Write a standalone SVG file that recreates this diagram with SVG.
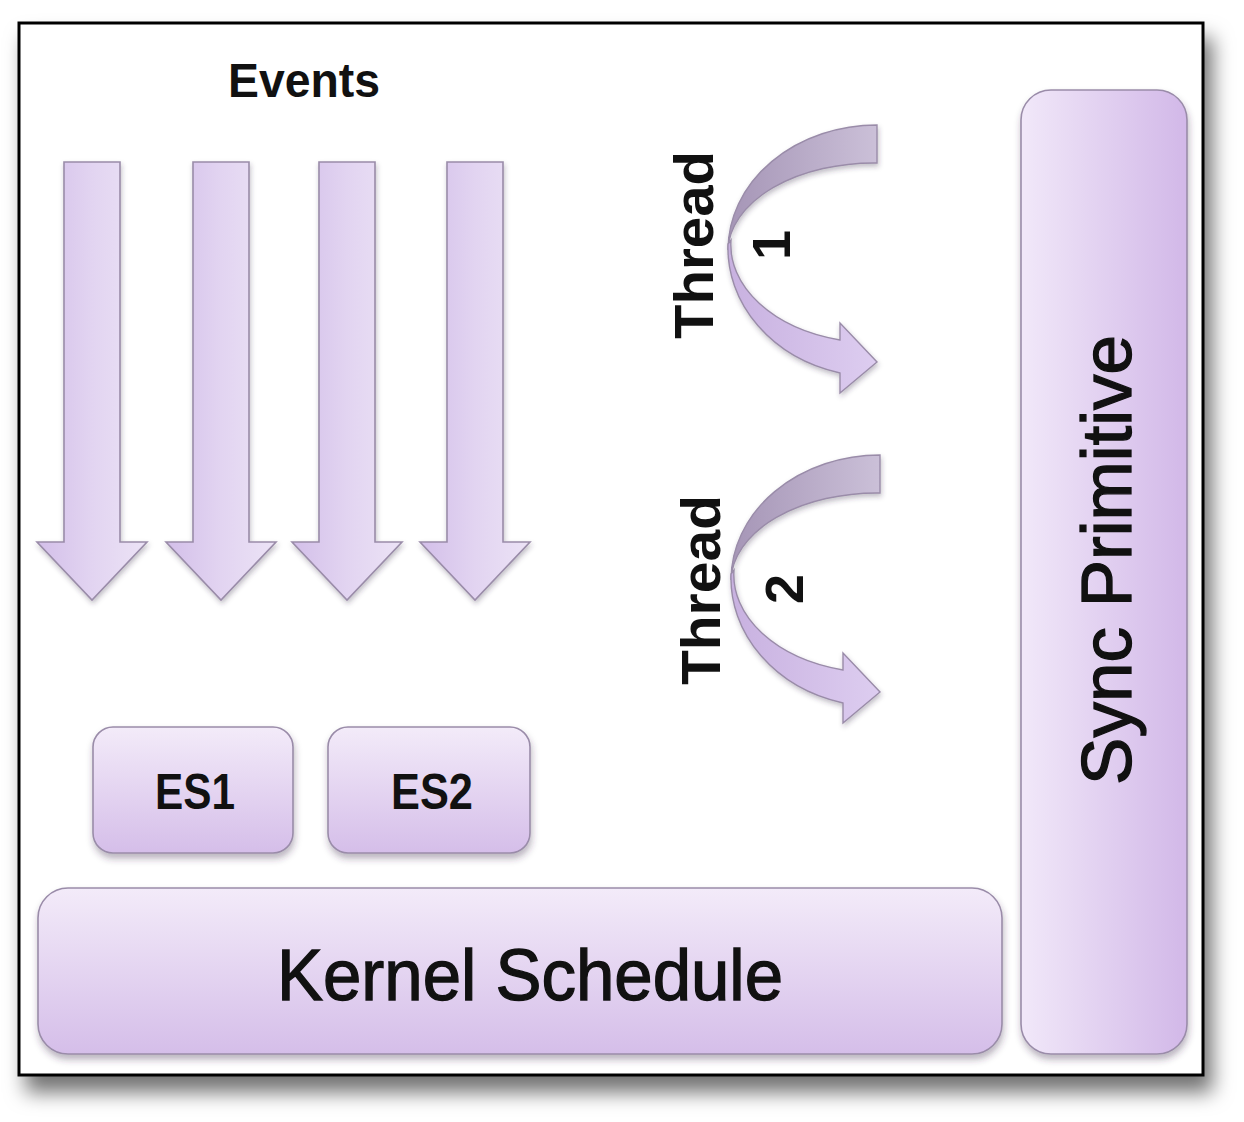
<svg xmlns="http://www.w3.org/2000/svg" xmlns:xlink="http://www.w3.org/1999/xlink" width="1244" height="1122" viewBox="0 0 1244 1122">
<style>
.lbl{font-family:"Liberation Sans",Arial,sans-serif;fill:#111;}
.b{font-weight:bold;}
.heavy{stroke:#111;stroke-width:1.3;}
.shape{stroke:#9a8ca9;stroke-width:1.6;}
</style>
<defs>
<filter id="frameShadow" x="-5%" y="-5%" width="112%" height="118%">
<feDropShadow dx="8" dy="16" stdDeviation="10" flood-color="#000" flood-opacity="0.55"/>
</filter>
<filter id="boxShadow" x="-10%" y="-10%" width="120%" height="130%">
<feDropShadow dx="1" dy="5" stdDeviation="3.5" flood-color="#3a2a4a" flood-opacity="0.35"/>
</filter>
<filter id="arrShadow" x="-20%" y="-10%" width="140%" height="120%">
<feDropShadow dx="1" dy="3" stdDeviation="2.5" flood-color="#3a2a4a" flood-opacity="0.3"/>
</filter>
<linearGradient id="arrGrad" x1="0" y1="0" x2="1" y2="0">
<stop offset="0" stop-color="#d3bfe9"/>
<stop offset="0.5" stop-color="#e2d4f1"/>
<stop offset="1" stop-color="#ece3f6"/>
</linearGradient>
<linearGradient id="boxV" x1="0" y1="0" x2="0" y2="1">
<stop offset="0" stop-color="#f3ebf9"/>
<stop offset="1" stop-color="#d5bee9"/>
</linearGradient>
<linearGradient id="boxH" x1="0" y1="0" x2="1" y2="0">
<stop offset="0" stop-color="#f1e8f9"/>
<stop offset="1" stop-color="#d2b8e8"/>
</linearGradient>
<linearGradient id="backBand" x1="0" y1="0" x2="1" y2="0">
<stop offset="0" stop-color="#a595b6"/>
<stop offset="1" stop-color="#cbc0d8"/>
</linearGradient>
<linearGradient id="frontBand" x1="0" y1="0" x2="1" y2="0">
<stop offset="0" stop-color="#c8b1e0"/>
<stop offset="1" stop-color="#ddcdf0"/>
</linearGradient>
<path id="downArrow" d="M -28,162 H 28 V 542 H 55 L 0,600 L -55,542 H -28 Z"/>
<g id="curvedArrow">
<path d="M 877,125 A 149,125 0 0 0 728,250 A 146,89 0 0 1 877,163 Z" fill="url(#backBand)" stroke="#9a8ca9" stroke-width="1.4"/>
<path d="M 728,244 A 149,129 0 0 0 840,373 L 840,393 L 877,362 L 840,323 L 840,340 A 144,98 0 0 1 731,240 Z" fill="url(#frontBand)" stroke="#9a8ca9" stroke-width="1.4"/>
</g>
</defs>

<g id="frame">
<rect x="19" y="23" width="1184" height="1052" fill="#fff" stroke="#000" stroke-width="3" filter="url(#frameShadow)"/>
</g>

<g id="title">
<text class="lbl b" x="304" y="97" font-size="48" text-anchor="middle" textLength="152" lengthAdjust="spacingAndGlyphs">Events</text>
</g>

<g id="connectors">
<g id="event-arrows" filter="url(#arrShadow)">
<use xlink:href="#downArrow" href="#downArrow" transform="translate(92,0)" fill="url(#arrGrad)" stroke="#9a8ca9" stroke-width="1.6"/>
<use xlink:href="#downArrow" href="#downArrow" transform="translate(221,0)" fill="url(#arrGrad)" stroke="#9a8ca9" stroke-width="1.6"/>
<use xlink:href="#downArrow" href="#downArrow" transform="translate(347,0)" fill="url(#arrGrad)" stroke="#9a8ca9" stroke-width="1.6"/>
<use xlink:href="#downArrow" href="#downArrow" transform="translate(475,0)" fill="url(#arrGrad)" stroke="#9a8ca9" stroke-width="1.6"/>
</g>
<g id="thread1-arrow" filter="url(#arrShadow)">
<use xlink:href="#curvedArrow" href="#curvedArrow"/>
</g>
<g id="thread2-arrow" filter="url(#arrShadow)">
<use xlink:href="#curvedArrow" href="#curvedArrow" transform="translate(3,330)"/>
</g>
</g>

<g id="thread1">
<text class="lbl b" font-size="56" text-anchor="middle" transform="translate(713,245) rotate(-90)" textLength="188" lengthAdjust="spacingAndGlyphs">Thread</text>
<text class="lbl b" font-size="54" text-anchor="middle" transform="translate(790,245) rotate(-90)">1</text>
</g>

<g id="thread2">
<text class="lbl b" font-size="56" text-anchor="middle" transform="translate(720,590) rotate(-90)" textLength="190" lengthAdjust="spacingAndGlyphs">Thread</text>
<text class="lbl b" font-size="54" text-anchor="middle" transform="translate(803,589) rotate(-90)">2</text>
</g>

<g id="es1">
<rect class="shape" x="93" y="727" width="200" height="126" rx="20" fill="url(#boxV)" filter="url(#boxShadow)"/>
<text class="lbl b" x="195" y="809" font-size="50" text-anchor="middle" textLength="80" lengthAdjust="spacingAndGlyphs">ES1</text>
</g>

<g id="es2">
<rect class="shape" x="328" y="727" width="202" height="126" rx="20" fill="url(#boxV)" filter="url(#boxShadow)"/>
<text class="lbl b" x="432" y="809" font-size="50" text-anchor="middle" textLength="82" lengthAdjust="spacingAndGlyphs">ES2</text>
</g>

<g id="kernel">
<rect class="shape" x="38" y="888" width="964" height="166" rx="30" fill="url(#boxV)" filter="url(#boxShadow)"/>
<text class="lbl heavy" x="530" y="1000" font-size="72" text-anchor="middle" textLength="506" lengthAdjust="spacingAndGlyphs">Kernel Schedule</text>
</g>

<g id="sync">
<rect class="shape" x="1021" y="90" width="166" height="964" rx="30" fill="url(#boxH)" filter="url(#boxShadow)"/>
<text class="lbl heavy" font-size="70" text-anchor="middle" transform="translate(1131,560) rotate(-90)" textLength="450" lengthAdjust="spacingAndGlyphs">Sync Primitive</text>
</g>
</svg>
